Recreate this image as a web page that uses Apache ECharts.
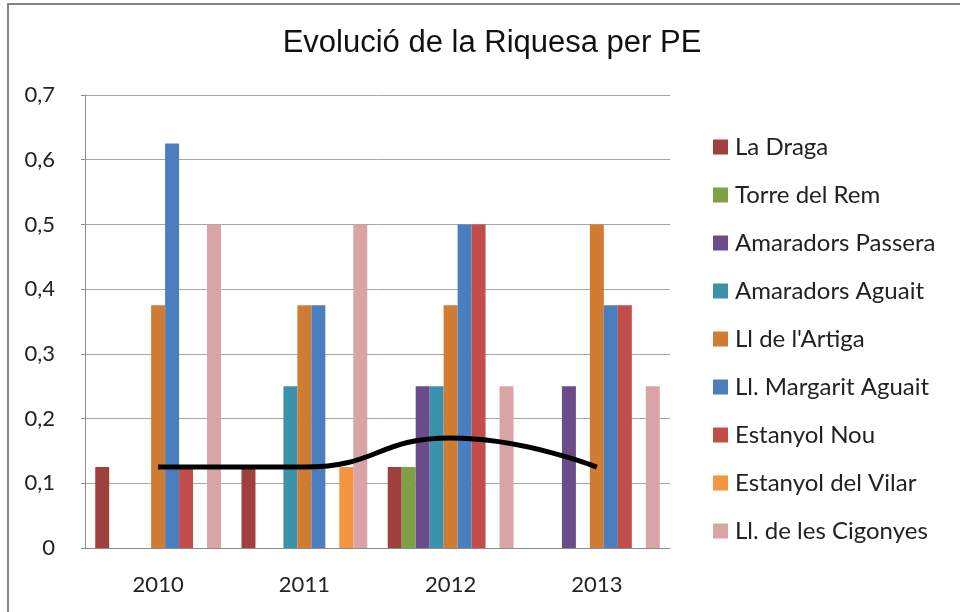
<!DOCTYPE html>
<html>
<head>
<meta charset="utf-8">
<script src="https://cdn.jsdelivr.net/npm/echarts@6/dist/echarts.min.js"></script>
<style>
  html, body { margin: 0; padding: 0; background: #fff; }
  #chart { width: 960px; height: 612px; }
</style>
</head>
<body>
<div id="chart"></div>
<script>
// data
const years = ['2010', '2011', '2012', '2013'];
const seriesNames = [
  'La Draga', 'Torre del Rem', 'Amaradors Passera', 'Amaradors Aguait',
  "Ll de l'Artiga", 'Ll. Margarit Aguait', 'Estanyol Nou', 'Estanyol del Vilar',
  'Ll. de les Cigonyes'
];
const laDraga      = [0.125, 0.125, 0.125, 0];
const torreDelRem  = [0, 0, 0.125, 0];
const amPassera    = [0, 0, 0.25, 0.25];
const amAguait     = [0, 0.25, 0.25, 0];
const llArtiga     = [0.375, 0.375, 0.375, 0.5];
const llMargarit   = [0.625, 0.375, 0.5, 0.375];
const estanyolNou  = [0.125, 0, 0.5, 0.375];
const estanyolVilar = [0, 0.125, 0, 0];
const llCigonyes   = [0.5, 0.5, 0.25, 0.25];
const trendLine    = [0.125, 0.125, 0.17, 0.125];
const yTicks = [0, 0.1, 0.2, 0.3, 0.4, 0.5, 0.6, 0.7];

const colors = ['#A0403E', '#80A046', '#6B4C8A', '#3A93AA', '#D07D33',
                '#4A7EBE', '#C24D4B', '#F5953F', '#D9A4A6'];
const values = [laDraga, torreDelRem, amPassera, amAguait, llArtiga,
                llMargarit, estanyolNou, estanyolVilar, llCigonyes];

const font = 'Lato, "Open Sans", sans-serif';

let chart = echarts.init(document.getElementById('chart'));

const barSeries = seriesNames.map((name, i) => ({
  name: name,
  type: 'bar',
  barGap: 0,
  barCategoryGap: '14%',
  itemStyle: { color: colors[i] },
  data: values[i]
}));

const option = {
  animation: false,
  backgroundColor: '#fff',
  title: {
    text: 'Evolució de la Riquesa per PE',
    left: 487,
    textAlign: 'center',
    top: 23,
    textStyle: {
      fontFamily: '"Liberation Sans", Arial, sans-serif',
      fontWeight: 'normal',
      fontSize: 31,
      color: '#111'
    }
  },
  graphic: [{
    type: 'rect',
    shape: { x: 8, y: 4, width: 1000, height: 700 },
    style: { fill: 'none', stroke: '#858585', lineWidth: 2 },
    silent: true
  }],
  legend: {
    orient: 'vertical',
    left: 708,
    top: 130,
    itemWidth: 15,
    itemHeight: 15,
    itemGap: 24,
    icon: 'rect',
    data: seriesNames,
    textStyle: { fontFamily: font, fontSize: 24, color: '#222', padding: [0, 0, 0, 2] }
  },
  grid: { left: 85, right: 290, top: 95, bottom: 64 },
  xAxis: {
    type: 'category',
    data: years,
    axisLine: { lineStyle: { color: '#8c8c8c', width: 1 } },
    axisTick: { show: false },
    axisLabel: { fontFamily: font, fontSize: 22, color: '#222', margin: 26 }
  },
  yAxis: {
    type: 'value',
    min: yTicks[0],
    max: yTicks[yTicks.length - 1],
    interval: 0.1,
    axisLine: { show: true, lineStyle: { color: '#8c8c8c', width: 1 } },
    axisTick: { show: true, length: 4, lineStyle: { color: '#8c8c8c' } },
    splitLine: { lineStyle: { color: '#a6a6a6', width: 1 } },
    axisLabel: {
      fontFamily: font, fontSize: 22, color: '#222', margin: 30,
      formatter: v => String(Math.round(v * 10) / 10).replace('.', ',')
    }
  },
  series: barSeries.concat([{
    name: 'tendència',
    type: 'line',
    smooth: true,
    symbol: 'none',
    z: 5,
    lineStyle: { color: '#000', width: 5 },
    data: trendLine
  }])
};

chart.setOption(option);
</script>
</body>
</html>
